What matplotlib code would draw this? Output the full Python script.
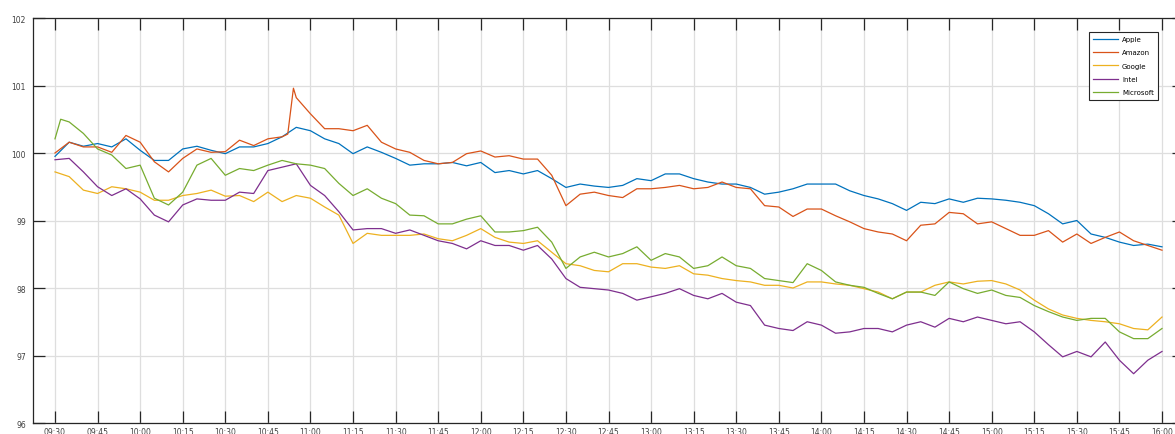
import matplotlib
matplotlib.use("Agg")
import matplotlib.pyplot as plt

# minutes after 09:30, one reading every 5 minutes
minutes = list(range(0, 391, 5))

apple = [99.95, 100.16, 100.10, 100.14, 100.09, 100.21, 100.04, 99.89, 99.89, 100.06,
         100.10, 100.04, 99.99, 100.09, 100.09, 100.14, 100.24, 100.38, 100.33, 100.21,
         100.14, 99.99, 100.09, 100.01, 99.92, 99.82, 99.84, 99.84, 99.86, 99.81,
         99.86, 99.71, 99.74, 99.69, 99.74, 99.62, 99.49, 99.54, 99.51, 99.49,
         99.52, 99.62, 99.59, 99.69, 99.69, 99.62, 99.57, 99.54, 99.54, 99.49,
         99.39, 99.42, 99.47, 99.54, 99.54, 99.54, 99.44, 99.37, 99.32, 99.25,
         99.15, 99.27, 99.25, 99.32, 99.27, 99.33, 99.32, 99.30, 99.27, 99.22,
         99.10, 98.95, 99.00, 98.80, 98.75, 98.68, 98.63, 98.65, 98.61]

amazon = [100.00, 100.16, 100.09, 100.09, 100.01, 100.26, 100.16, 99.87, 99.72, 99.92,
          100.06, 100.01, 100.02, 100.19, 100.11, 100.21, 100.24, 100.82, 100.58, 100.36,
          100.36, 100.33, 100.41, 100.16, 100.06, 100.01, 99.89, 99.84, 99.86, 99.99,
          100.03, 99.94, 99.96, 99.91, 99.91, 99.67, 99.22, 99.39, 99.42, 99.37,
          99.34, 99.47, 99.47, 99.49, 99.52, 99.47, 99.49, 99.57, 99.49, 99.47,
          99.22, 99.20, 99.06, 99.17, 99.17, 99.07, 98.98, 98.88, 98.83, 98.80,
          98.70, 98.93, 98.95, 99.12, 99.10, 98.95, 98.98, 98.88, 98.78, 98.78,
          98.85, 98.68, 98.80, 98.66, 98.75, 98.83, 98.70, 98.63, 98.56]
# the jump just before 11:00
amazon_extra_minutes = [82, 84]
amazon_extra = [100.28, 100.96]

google = [99.72, 99.65, 99.45, 99.40, 99.50, 99.47, 99.42, 99.30, 99.30, 99.37,
          99.40, 99.45, 99.36, 99.37, 99.28, 99.42, 99.28, 99.37, 99.33, 99.20,
          99.08, 98.66, 98.81, 98.78, 98.78, 98.78, 98.80, 98.73, 98.70, 98.78,
          98.88, 98.75, 98.68, 98.66, 98.70, 98.53, 98.36, 98.33, 98.26, 98.24,
          98.36, 98.36, 98.31, 98.29, 98.33, 98.21, 98.19, 98.14, 98.11, 98.09,
          98.04, 98.04, 98.00, 98.09, 98.09, 98.06, 98.04, 97.99, 97.94, 97.84,
          97.94, 97.94, 98.04, 98.09, 98.06, 98.10, 98.11, 98.06, 97.97, 97.82,
          97.69, 97.60, 97.55, 97.52, 97.50, 97.47, 97.40, 97.38, 97.57]

intel = [99.90, 99.92, 99.72, 99.50, 99.37, 99.47, 99.32, 99.08, 98.98, 99.23,
         99.32, 99.30, 99.30, 99.42, 99.40, 99.74, 99.79, 99.84, 99.52, 99.37,
         99.13, 98.86, 98.88, 98.88, 98.81, 98.86, 98.78, 98.70, 98.66, 98.58,
         98.70, 98.63, 98.63, 98.56, 98.63, 98.43, 98.14, 98.01, 97.99, 97.97,
         97.92, 97.82, 97.87, 97.92, 97.99, 97.89, 97.84, 97.92, 97.79, 97.74,
         97.45, 97.40, 97.37, 97.50, 97.45, 97.33, 97.35, 97.40, 97.40, 97.35,
         97.45, 97.50, 97.42, 97.55, 97.50, 97.57, 97.52, 97.47, 97.50, 97.35,
         97.16, 96.98, 97.06, 96.98, 97.20, 96.93, 96.73, 96.93, 97.06]

microsoft = [100.21, 100.46, 100.29, 100.06, 99.97, 99.77, 99.82, 99.33, 99.23, 99.42,
             99.82, 99.92, 99.67, 99.77, 99.74, 99.82, 99.89, 99.84, 99.82, 99.77,
             99.55, 99.37, 99.47, 99.33, 99.25, 99.08, 99.07, 98.95, 98.95, 99.02,
             99.07, 98.83, 98.83, 98.85, 98.90, 98.68, 98.29, 98.46, 98.53, 98.46,
             98.51, 98.61, 98.41, 98.51, 98.46, 98.29, 98.33, 98.46, 98.33, 98.29,
             98.14, 98.11, 98.08, 98.36, 98.26, 98.09, 98.04, 98.01, 97.92, 97.84,
             97.94, 97.94, 97.89, 98.09, 97.99, 97.92, 97.97, 97.89, 97.86, 97.74,
             97.65, 97.57, 97.52, 97.55, 97.55, 97.35, 97.25, 97.25, 97.40]
# early spike near 09:32
microsoft_extra_minutes = [2]
microsoft_extra = [100.50]

tick_minutes = list(range(0, 391, 15))
tick_labels = ["09:30", "09:45", "10:00", "10:15", "10:30", "10:45", "11:00", "11:15",
               "11:30", "11:45", "12:00", "12:15", "12:30", "12:45", "13:00", "13:15",
               "13:30", "13:45", "14:00", "14:15", "14:30", "14:45", "15:00", "15:15",
               "15:30", "15:45", "16:00"]


def merge(xs, ys, extra_x, extra_y):
    pairs = sorted(zip(list(xs) + extra_x, list(ys) + extra_y))
    return [p[0] for p in pairs], [p[1] for p in pairs]


amazon_x, amazon_y = merge(minutes, amazon, amazon_extra_minutes, amazon_extra)
msft_x, msft_y = merge(minutes, microsoft, microsoft_extra_minutes, microsoft_extra)

fig = plt.figure(figsize=(11.75, 4.35), dpi=100)
ax = fig.add_axes([33 / 1175, 11 / 435, 1151 / 1175, 405 / 435])

lw = 0.9
ax.plot(minutes, apple, color="#0072BD", lw=lw, label="Apple")
ax.plot(amazon_x, amazon_y, color="#D95319", lw=lw, label="Amazon")
ax.plot(minutes, google, color="#EDB120", lw=lw, label="Google")
ax.plot(minutes, intel, color="#7E2F8E", lw=lw, label="Intel")
ax.plot(msft_x, msft_y, color="#77AC30", lw=lw, label="Microsoft")

ax.set_xlim(-7.75, 397.75)
ax.set_ylim(96, 102)
ax.set_xticks(tick_minutes)
ax.set_xticklabels(tick_labels)
ax.set_yticks([96, 97, 98, 99, 100, 101, 102])
ax.set_yticklabels(["96", "97", "98", "99", "100", "101", "102"])

ax.grid(True, color="#dedede", lw=0.9)
ax.set_axisbelow(True)
ax.tick_params(direction="in", length=8.5, width=0.9, color="#262626",
               top=True, right=True, labelsize=5.5, labelcolor="#404040")
ax.tick_params(axis="x", pad=3)
ax.tick_params(axis="y", pad=5)
for s in ax.spines.values():
    s.set_color("#262626")
    s.set_linewidth(0.9)

leg = ax.legend(loc="upper right", bbox_to_anchor=(1158 / 1175, 1 - 33 / 435),
                bbox_transform=fig.transFigure, fontsize=5, handlelength=3.6,
                labelspacing=1.05, fancybox=False, framealpha=1, edgecolor="#262626",
                borderpad=0.6, handletextpad=0.5, borderaxespad=0)
leg.get_frame().set_linewidth(0.8)

fig.savefig("out.png", dpi=100)
